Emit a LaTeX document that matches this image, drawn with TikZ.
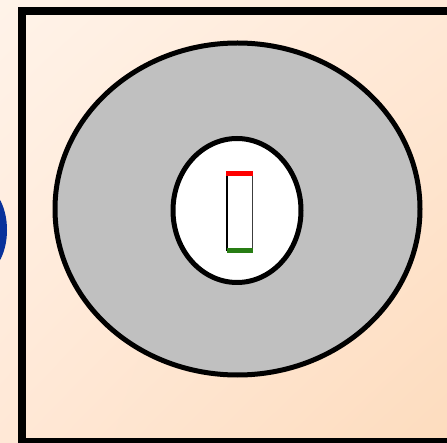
\documentclass[tikz,border=0pt]{standalone}
\usetikzlibrary{shadings}
\definecolor{bgUL}{RGB}{255,243,233}
\definecolor{bgUR}{RGB}{255,233,215}
\definecolor{bgLL}{RGB}{255,232,214}
\definecolor{bgLR}{RGB}{253,220,190}
\definecolor{blueshape}{RGB}{8,50,155}
\definecolor{ringgray}{RGB}{192,192,192}
\definecolor{sidegray}{RGB}{60,60,60}
\definecolor{bargreen}{RGB}{40,125,20}
\begin{document}
\begin{tikzpicture}[x=1pt,y=-1pt,
  frameline/.style={line width=8.5pt,draw=black},
  ringline/.style={line width=5pt,draw=black}]
\useasboundingbox (0,0) rectangle (447,443);
% background gradient
\shade[upper left=bgUL, upper right=bgUR, lower left=bgLL, lower right=bgLR]
  (0,0) rectangle (447,443);
% blue partial shape at left
\fill[blueshape] (-20,230) ellipse [x radius=27pt, y radius=45pt];
% outer frame
\draw[frameline] (21.75,11) rectangle (470,442.5);
% gray ellipse
\draw[ringline,fill=ringgray] (237.5,209) ellipse [x radius=182.5pt, y radius=166pt];
% white ellipse
\draw[ringline,fill=white] (237,210.5) ellipse [x radius=64pt, y radius=72pt];
% small rectangle
\draw[line width=2pt] (227,173) -- (227,251);
\draw[line width=1.3pt,sidegray] (252.3,173) -- (252.3,251);
\draw[line width=5pt,red] (226,173.5) -- (253,173.5);
\draw[line width=5pt,bargreen] (226.5,250.5) -- (253,250.5);
\end{tikzpicture}
\end{document}
